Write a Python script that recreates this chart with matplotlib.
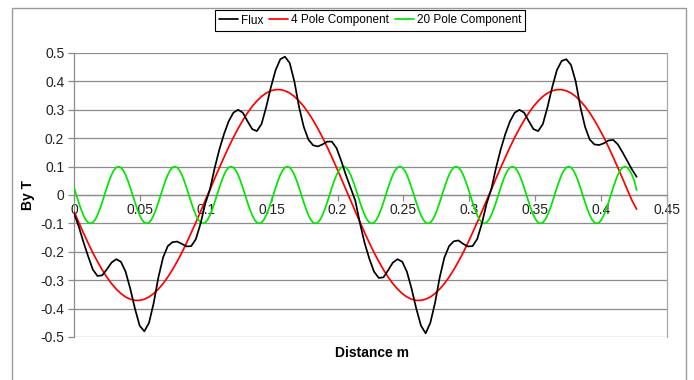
import numpy as np
import matplotlib

matplotlib.use('Agg')  # no display
import matplotlib.pyplot as plt
from matplotlib.patches import Rectangle

plt.rcParams['font.family'] = ['Liberation Sans', 'DejaVu Sans']

# ---------------------------------------------------------------
# Data
# flux and 4 pole samples are spaced 0.003558 m apart (0 .. 0.427 m),
# the 20 pole samples at half that spacing
# ---------------------------------------------------------------
step = 0.003558
distance = np.arange(121) * step
distance_fine = np.arange(241) * step / 2

flux = [
    -0.065, -0.11, -0.165, -0.215, -0.262, -0.285, -0.283, -0.262, -0.238, -0.226, -0.235, -0.27,
    -0.33, -0.40, -0.46, -0.48, -0.45, -0.38, -0.29, -0.22, -0.18, -0.166, -0.164, -0.172,
    -0.181, -0.18, -0.155, -0.10, -0.03, 0.02, 0.095, 0.16, 0.215, 0.26, 0.29, 0.30,
    0.29, 0.26, 0.232, 0.225, 0.25, 0.31, 0.38, 0.44, 0.478, 0.487, 0.465, 0.40,
    0.31, 0.24, 0.195, 0.175, 0.171, 0.178, 0.188, 0.188, 0.165, 0.12, 0.07, 0.025,
    -0.02, -0.10, -0.17, -0.225, -0.27, -0.292, -0.29, -0.265, -0.238, -0.226, -0.235, -0.27,
    -0.33, -0.40, -0.46, -0.487, -0.45, -0.38, -0.29, -0.22, -0.18, -0.163, -0.16, -0.172,
    -0.181, -0.18, -0.155, -0.10, -0.03, 0.02, 0.095, 0.16, 0.215, 0.26, 0.29, 0.30,
    0.29, 0.26, 0.232, 0.225, 0.25, 0.31, 0.38, 0.44, 0.472, 0.478, 0.458, 0.40,
    0.31, 0.24, 0.195, 0.178, 0.176, 0.182, 0.192, 0.194, 0.178, 0.15, 0.12, 0.09,
    0.064,
]

pole4 = [
    -0.058, -0.096, -0.133, -0.169, -0.203, -0.234, -0.263, -0.289, -0.312, -0.331, -0.347, -0.359, -0.367, -0.371, -0.371,
    -0.367, -0.359, -0.347, -0.331, -0.312, -0.289, -0.263, -0.234, -0.203, -0.169, -0.133, -0.096, -0.058, -0.019, 0.019,
    0.058, 0.096, 0.133, 0.169, 0.203, 0.234, 0.263, 0.289, 0.312, 0.331, 0.347, 0.359, 0.367, 0.371, 0.371,
    0.367, 0.359, 0.347, 0.331, 0.312, 0.289, 0.263, 0.234, 0.203, 0.169, 0.133, 0.096, 0.058, 0.019, -0.019,
    -0.058, -0.096, -0.133, -0.169, -0.203, -0.234, -0.263, -0.289, -0.312, -0.331, -0.347, -0.359, -0.367, -0.371, -0.371,
    -0.367, -0.359, -0.347, -0.331, -0.312, -0.289, -0.263, -0.234, -0.203, -0.169, -0.133, -0.096, -0.058, -0.019, 0.019,
    0.058, 0.096, 0.133, 0.169, 0.203, 0.234, 0.263, 0.289, 0.312, 0.331, 0.347, 0.359, 0.367, 0.371, 0.371,
    0.367, 0.359, 0.347, 0.331, 0.312, 0.289, 0.263, 0.234, 0.203, 0.169, 0.133, 0.096, 0.058, 0.019, -0.019,
    -0.05,
]

pole20 = [
    0.026, 0.0, -0.026, -0.05, -0.071, -0.087, -0.097, -0.1, -0.097, -0.087, -0.071, -0.05, -0.026, 0.0, 0.026, 0.05, 0.071, 0.087, 0.097, 0.1, 0.097, 0.087, 0.071, 0.05,
    0.026, 0.0, -0.026, -0.05, -0.071, -0.087, -0.097, -0.1, -0.097, -0.087, -0.071, -0.05, -0.026, 0.0, 0.026, 0.05, 0.071, 0.087, 0.097, 0.1, 0.097, 0.087, 0.071, 0.05,
    0.026, 0.0, -0.026, -0.05, -0.071, -0.087, -0.097, -0.1, -0.097, -0.087, -0.071, -0.05, -0.026, 0.0, 0.026, 0.05, 0.071, 0.087, 0.097, 0.1, 0.097, 0.087, 0.071, 0.05,
    0.026, 0.0, -0.026, -0.05, -0.071, -0.087, -0.097, -0.1, -0.097, -0.087, -0.071, -0.05, -0.026, 0.0, 0.026, 0.05, 0.071, 0.087, 0.097, 0.1, 0.097, 0.087, 0.071, 0.05,
    0.026, 0.0, -0.026, -0.05, -0.071, -0.087, -0.097, -0.1, -0.097, -0.087, -0.071, -0.05, -0.026, 0.0, 0.026, 0.05, 0.071, 0.087, 0.097, 0.1, 0.097, 0.087, 0.071, 0.05,
    0.026, 0.0, -0.026, -0.05, -0.071, -0.087, -0.097, -0.1, -0.097, -0.087, -0.071, -0.05, -0.026, 0.0, 0.026, 0.05, 0.071, 0.087, 0.097, 0.1, 0.097, 0.087, 0.071, 0.05,
    0.026, 0.0, -0.026, -0.05, -0.071, -0.087, -0.097, -0.1, -0.097, -0.087, -0.071, -0.05, -0.026, 0.0, 0.026, 0.05, 0.071, 0.087, 0.097, 0.1, 0.097, 0.087, 0.071, 0.05,
    0.026, 0.0, -0.026, -0.05, -0.071, -0.087, -0.097, -0.1, -0.097, -0.087, -0.071, -0.05, -0.026, 0.0, 0.026, 0.05, 0.071, 0.087, 0.097, 0.1, 0.097, 0.087, 0.071, 0.05,
    0.026, 0.0, -0.026, -0.05, -0.071, -0.087, -0.097, -0.1, -0.097, -0.087, -0.071, -0.05, -0.026, 0.0, 0.026, 0.05, 0.071, 0.087, 0.097, 0.1, 0.097, 0.087, 0.071, 0.05,
    0.026, 0.0, -0.026, -0.05, -0.071, -0.087, -0.097, -0.1, -0.097, -0.087, -0.071, -0.05, -0.026, 0.0, 0.026, 0.05, 0.071, 0.087, 0.097, 0.1, 0.097, 0.087, 0.071, 0.05,
    0.017,
]

series_names = ['Flux', '4 Pole Component', '20 Pole Component']
x_ticks = [0, 0.05, 0.1, 0.15, 0.2, 0.25, 0.3, 0.35, 0.4, 0.45]
x_tick_labels = ['0', '0.05', '0.1', '0.15', '0.2', '0.25', '0.3', '0.35', '0.4', '0.45']
y_ticks = [-0.5, -0.4, -0.3, -0.2, -0.1, 0, 0.1, 0.2, 0.3, 0.4, 0.5]
y_tick_labels = ['-0.5', '-0.4', '-0.3', '-0.2', '-0.1', '0', '0.1', '0.2', '0.3', '0.4', '0.5']

# ---------------------------------------------------------------
# Figure
# ---------------------------------------------------------------
W, H = 694, 380
fig = plt.figure(figsize=(W / 100, H / 100), dpi=100)
ax = fig.add_axes([74 / W, 1 - 337 / H, (667 - 74) / W, (337 - 53) / H])

grid_col = '#8c8c8c'

# horizontal gridlines (Excel style)
for yv in y_ticks:
    ax.axhline(yv, color=grid_col, lw=0.9, zorder=1)

line_kw = dict(lw=1.25, solid_joinstyle='round', solid_capstyle='round')
l1, = ax.plot(distance, flux, color='black', zorder=4, **line_kw)
l2, = ax.plot(distance, pole4, color='#ff0000', zorder=3, **line_kw)
l3, = ax.plot(distance_fine, pole20, color='#00e600', zorder=3, **line_kw)

ax.set_xlim(0, 0.45)
ax.set_ylim(-0.5, 0.5)

# axes cross at zero
ax.spines['left'].set_position(('data', 0))
ax.spines['bottom'].set_position(('data', 0))
for s in ['left', 'bottom']:
    ax.spines[s].set_color(grid_col)
    ax.spines[s].set_linewidth(0.9)
ax.spines['top'].set_visible(False)
ax.spines['right'].set_color('#a8a8a8')
ax.spines['right'].set_linewidth(0.9)

ax.set_xticks(x_ticks)
ax.set_xticklabels(x_tick_labels, fontsize=10, color='#222222')
ax.set_yticks(y_ticks)
ax.set_yticklabels(y_tick_labels, fontsize=10, color='#222222')
ax.tick_params(axis='x', direction='out', length=4, width=0.9, color=grid_col, pad=2)
ax.tick_params(axis='y', direction='out', length=4, width=0.9, color=grid_col, pad=3)

# axis titles
fig.text(28 / W, 1 - 195 / H, 'By T', rotation=90, fontsize=10, fontweight='bold',
         ha='center', va='center')
fig.text(372 / W, 1 - 353 / H, 'Distance m', fontsize=10, fontweight='bold',
         ha='center', va='center')

# legend on top
leg = fig.legend([l1, l2, l3], series_names, loc='center', ncol=3,
                 bbox_to_anchor=(370 / W, 1 - 20.5 / H), frameon=True, fancybox=False,
                 edgecolor='black', framealpha=1, fontsize=8.5, handlelength=1.6,
                 handletextpad=0.25, columnspacing=0.5, borderpad=0.35)
leg.get_frame().set_linewidth(0.8)

# outer chart border
fig.patches.append(Rectangle((12 / W, -0.05), (686 - 12) / W, 1 - 8 / H + 0.05,
                             transform=fig.transFigure, fill=False,
                             edgecolor='#999999', lw=1.0))

fig.savefig('out.png', dpi=100)
